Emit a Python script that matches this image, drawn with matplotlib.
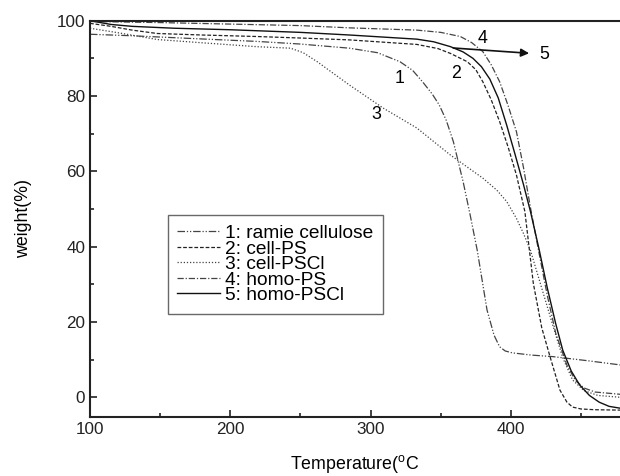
import matplotlib
matplotlib.use("Agg")
import matplotlib.pyplot as plt

plt.rcParams['font.family'] = ['Liberation Sans', 'DejaVu Sans']
plt.rcParams['mathtext.fontset'] = 'custom'
plt.rcParams['mathtext.rm'] = 'Liberation Sans'

# TGA curves (temperature in C, weight in %)
t1 = [100, 130, 171, 219, 250, 285, 305, 321, 330, 337, 344, 349, 354, 359, 366, 371, 376, 383, 388, 392, 396, 401, 415, 430, 455, 478]
w1 = [96.4, 96.0, 95.3, 94.5, 93.8, 92.7, 91.5, 89.1, 86.8, 83.8, 80.5, 77.6, 73.5, 67.9, 57.2, 48.4, 39.1, 23.2, 16.5, 13.4, 12.3, 11.8, 11.2, 10.8, 9.7, 8.6]

t2 = [100, 115, 130, 148, 180, 219, 250, 285, 333, 348, 357, 369, 375, 380, 386, 392, 398, 404, 410, 416, 422, 428, 435, 440, 444, 450, 460, 478]
w2 = [99.3, 98.5, 97.5, 96.6, 96.2, 95.8, 95.4, 94.9, 93.7, 92.6, 91.3, 89.1, 87.0, 83.8, 79.0, 73.2, 66.5, 59.0, 49.3, 30.3, 18.5, 10.7, 1.9, -1.3, -2.6, -3.1, -3.3, -3.4]

t3 = [100, 120, 148, 185, 219, 243, 252, 262, 285, 309, 333, 357, 380, 390, 397, 404, 409, 414, 422, 430, 437, 444, 452, 462, 478]
w3 = [98.0, 96.8, 95.0, 94.0, 93.1, 92.7, 91.5, 89.1, 82.9, 76.8, 71.5, 64.3, 58.2, 55.0, 52.0, 47.5, 43.5, 39.0, 29.0, 19.0, 10.5, 4.6, 1.8, 0.5, 0.0]

t4 = [100, 150, 200, 250, 285, 333, 350, 364, 372, 380, 386, 392, 398, 404, 409, 414, 420, 426, 432, 440, 446, 452, 460, 478]
w4 = [99.8, 99.5, 99.1, 98.7, 98.1, 97.5, 96.9, 95.8, 94.2, 91.8, 88.3, 83.8, 77.5, 70.5, 61.0, 50.3, 38.5, 27.0, 17.0, 8.5, 4.5, 2.5, 1.4, 0.8]

t5 = [100, 115, 130, 160, 200, 250, 285, 333, 345, 357, 366, 373, 379, 385, 391, 397, 403, 409, 414, 420, 426, 432, 437, 443, 449, 456, 463, 470, 478]
w5 = [100, 99.0, 98.5, 98.0, 97.6, 96.9, 96.2, 95.1, 94.4, 93.1, 91.7, 90.0, 87.8, 84.5, 79.5, 72.3, 64.5, 56.5, 49.3, 39.5, 29.0, 19.5, 12.5, 7.0, 3.3, 0.5, -1.3, -2.4, -2.9]

labels = ['1: ramie cellulose', '2: cell-PS', '3: cell-PSCl', '4: homo-PS', '5: homo-PSCl']

fig = plt.figure(figsize=(6.2, 4.76), dpi=100)
ax = fig.add_axes([90 / 620, 1 - 416.7 / 476, 530 / 620, 396 / 476])

lw = 0.9
ax.plot(t1, w1, color='#444444', lw=lw, ls=(0, (6, 1.5, 1, 1.5, 1, 1.5)), label=labels[0])
ax.plot(t2, w2, color='#222222', lw=lw, ls=(0, (3, 1.5)), label=labels[1])
ax.plot(t3, w3, color='#444444', lw=lw, ls=(0, (1, 1.5)), label=labels[2])
ax.plot(t4, w4, color='#444444', lw=lw, ls=(0, (5, 1.5, 1, 1.5)), label=labels[3])
ax.plot(t5, w5, color='#111111', lw=1.0, ls='-', label=labels[4])

ax.set_xlim(100, 477.8)
ax.set_ylim(-5.15, 100)
ax.set_xticks([100, 200, 300, 400])
ax.set_xticks([150, 250, 350, 450], minor=True)
ax.set_yticks([0, 20, 40, 60, 80, 100])
ax.set_yticks([10, 30, 50, 70, 90], minor=True)
ax.tick_params(which='both', direction='in', labelsize=12.3, width=1.2, colors='#222222')
ax.tick_params(which='major', length=5)
ax.tick_params(which='minor', length=3)
ax.spines['right'].set_visible(False)
for s in ['left', 'bottom', 'top']:
    ax.spines[s].set_linewidth(1.5)
    ax.spines[s].set_color('#222222')

ax.set_xlabel(r'Temperature($^{\mathrm{o}}$C', fontsize=12.8, labelpad=12)
ax.set_ylabel('weight(%)', fontsize=12.8, labelpad=18)

# curve numbers and arrow
for txt, x, y in [('1', 321, 84.7), ('2', 361, 86.0), ('3', 304, 75.0), ('4', 380, 95.3)]:
    ax.text(x, y, txt, fontsize=12.8, ha='center', va='center')
ax.annotate('', xy=(415, 91.3), xytext=(357, 92.8),
            arrowprops=dict(arrowstyle='-|>', color='#111111', lw=1.2, mutation_scale=12))
ax.text(424, 91.1, '5', fontsize=12.8, ha='center', va='center')

leg = ax.legend(loc='upper left', bbox_to_anchor=(0.147, 0.509), fontsize=13.8,
                frameon=True, fancybox=False, handlelength=2.2, handletextpad=0.3,
                labelspacing=-0.1, borderpad=0.5, borderaxespad=0)
leg.get_frame().set_edgecolor('#444444')
leg.get_frame().set_linewidth(1.0)

fig.savefig('out.png', dpi=100)
